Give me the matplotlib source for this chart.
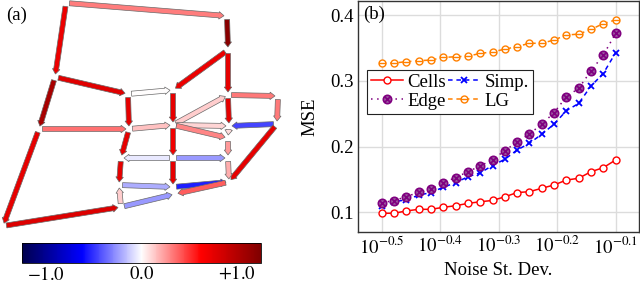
import numpy as np
import matplotlib
matplotlib.use('Agg')
import matplotlib.pyplot as plt
from matplotlib.colors import Normalize
from matplotlib.cm import ScalarMappable
from matplotlib.path import Path

plt.rcParams['font.family'] = ['Liberation Serif', 'DejaVu Serif']
plt.rcParams['mathtext.fontset'] = 'stix'

# ---------------- panel (b) data ----------------
noise_exp = [-0.5, -0.4789, -0.4579, -0.4368, -0.4158, -0.3947, -0.3737, -0.3526,
             -0.3316, -0.3105, -0.2895, -0.2684, -0.2474, -0.2263, -0.2053, -0.1842,
             -0.1632, -0.1421, -0.1211, -0.1]
cells = [0.0985, 0.0985, 0.102, 0.1045, 0.1045, 0.1075, 0.110, 0.1135, 0.116, 0.118,
         0.1235, 0.130, 0.1313, 0.1365, 0.1415, 0.149, 0.1517, 0.1617, 0.1678, 0.1795]
simp = [0.110, 0.116, 0.119, 0.126, 0.130, 0.138, 0.145, 0.154, 0.160, 0.171,
        0.1806, 0.1947, 0.205, 0.2186, 0.234, 0.2545, 0.2655, 0.292, 0.311, 0.3426]
edge = [0.1146, 0.1177, 0.1237, 0.1304, 0.135, 0.145, 0.1526, 0.1617, 0.1704, 0.1800,
        0.1937, 0.207, 0.219, 0.234, 0.2514, 0.2757, 0.2885, 0.315, 0.339, 0.372]
lg = [0.3265, 0.327, 0.329, 0.3305, 0.3315, 0.3355, 0.3365, 0.3375, 0.3415, 0.344,
      0.348, 0.352, 0.357, 0.357, 0.362, 0.3695, 0.371, 0.378, 0.387, 0.3925]
xtick_exp = [-0.5, -0.4, -0.3, -0.2, -0.1]
ytick_vals = [0.1, 0.2, 0.3, 0.4]

# ---------------- panel (a) data ----------------
node_x = [66, 227, 228, 55, 128, 173, 228, 278, 39, 129, 173, 229, 277, 3,
          121, 173, 228, 119, 173, 229, 121, 228, 175]
node_y = [3, 16, 50, 77, 94, 90, 95, 96, 129, 129, 125, 126, 124, 226,
          158, 158, 158, 185, 187, 182, 207, 138, 194]
edge_src = [0, 0, 1, 2, 2, 3, 3, 4, 4, 5, 6, 6, 7, 10, 8, 9, 10, 10, 11, 21,
            12, 12, 9, 10, 15, 15, 16, 14, 15, 17, 18, 19, 20, 20, 13, 8]
edge_dst = [1, 3, 2, 5, 6, 4, 8, 5, 9, 10, 7, 11, 12, 6, 9, 10, 11, 21, 21, 16,
            11, 19, 14, 15, 14, 16, 19, 17, 18, 18, 19, 22, 22, 17, 20, 13]
edge_val = [0.32, 0.72, 1.2, 0.72, 0.75, 0.78, 1.05, 0.0, 0.75, 0.75, 0.33, 0.75,
            0.33, 0.12, 0.35, 0.15, 0.1, 0.3, 0.08, 0.25, -0.45, 0.75, 0.75, 0.7,
            -0.05, -0.25, 0.2, 0.75, 0.75, -0.2, -0.55, 0.4, -0.25, 0.12, 0.8, 0.75]
cbar_ticks = [-1.0, 0.0, 1.0]
cbar_labels = ['$-1.0$', '$0.0$', '$+1.0$']

W, H = 640, 283
fig = plt.figure(figsize=(W / 100, H / 100), dpi=100)


def rect(x0, y0, x1, y1):
    return [x0 / W, 1 - y1 / H, (x1 - x0) / W, (y1 - y0) / H]


FS = 13.5

# ---------------- panel (a) ----------------
axa = fig.add_axes(rect(0, 0, 300, 240))
axa.set_xlim(0, 300)
axa.set_ylim(240, 0)
axa.axis('off')
cmap = plt.get_cmap('seismic')
norm = Normalize(-1.25, 1.25)
for s, d, v in zip(edge_src, edge_dst, edge_val):
    x0, y0 = node_x[s], node_y[s]
    x1, y1 = node_x[d], node_y[d]
    dx, dy = x1 - x0, y1 - y0
    L = np.hypot(dx, dy)
    ux, uy = dx / L, dy / L
    sx, sy = x0 + ux * 3.5, y0 + uy * 3.5
    ex, ey = x1 - ux * 3.0, y1 - uy * 3.0
    axa.arrow(sx, sy, ex - sx, ey - sy, width=5.0, head_width=7.5, head_length=5.0,
              length_includes_head=True, fc=cmap(norm(v)), ec='#6a6a6a', lw=0.5)
fig.text(17 / W, 1 - 15 / H, '(a)', ha='center', va='center', fontsize=FS)

cax = fig.add_axes(rect(22, 243, 261, 263))
cb = fig.colorbar(ScalarMappable(norm=norm, cmap=cmap), cax=cax, orientation='horizontal')
cb.set_ticks(cbar_ticks)
cb.set_ticklabels(cbar_labels)
cax.tick_params(length=0, labelsize=FS, pad=2)
cb.outline.set_linewidth(0.6)

# ---------------- panel (b) ----------------
axb = fig.add_axes(rect(358, 1, 639, 232))
x = 10 ** np.array(noise_exp)

circ = Path.unit_circle()
otimes = Path.make_compound_path(
    circ,
    Path([(-0.7, -0.7), (0.7, 0.7)], [Path.MOVETO, Path.LINETO]),
    Path([(-0.7, 0.7), (0.7, -0.7)], [Path.MOVETO, Path.LINETO]))
ominus = Path.make_compound_path(
    circ, Path([(-1, 0), (1, 0)], [Path.MOVETO, Path.LINETO]))

l1, = axb.plot(x, cells, color='#ff0000', lw=1.1, marker='o', ms=5, mfc='white',
               mec='#ff0000', mew=1.0, label='Cells')
l2, = axb.plot(x, simp, color='#0000ff', lw=1.1, ls=(0, (3, 2.5)), marker='x', ms=4,
               mew=1.3, label='Simp.')
l3, = axb.plot(x, edge, color='#800080', lw=1.1, ls=(0, (1, 3)), marker=otimes, ms=6,
               mfc='#9a5aa0', mec='#800080', mew=1.2, label='Edge')
l4, = axb.plot(x, lg, color='#ff8000', lw=1.1, ls=(0, (3, 2.5)), marker=ominus, ms=5,
               mfc='white', mec='#ff8000', mew=1.0, label='LG')

axb.set_xscale('log')
axb.set_xlim(10 ** -0.5405, 10 ** -0.06)
axb.set_ylim(0.070, 0.4213)
axb.set_xticks(10 ** np.array(xtick_exp))
axb.set_xticklabels([r'$10^{%.1f}$' % e for e in xtick_exp])
axb.xaxis.set_minor_locator(matplotlib.ticker.NullLocator())
axb.set_yticks(ytick_vals)
axb.set_yticklabels(['%.1f' % v for v in ytick_vals])
axb.tick_params(labelsize=FS, length=0, pad=3)
axb.grid(True, color='#dcdcdc', lw=1.0)
axb.set_axisbelow(True)
for sp in axb.spines.values():
    sp.set_linewidth(1.0)
    sp.set_color('#333333')
axb.set_xlabel('Noise St. Dev.', fontsize=FS)
axb.xaxis.set_label_coords(0.5, -0.13)
axb.set_ylabel('MSE', fontsize=FS)
axb.yaxis.set_label_coords(-0.14, 0.5)
axb.text(0.018, 0.944, '(b)', transform=axb.transAxes, ha='left', va='center', fontsize=FS)

leg = axb.legend(handles=[l1, l3, l2, l4], ncol=2, loc='upper left',
                 bbox_to_anchor=((367 - 358) / 281, 1 - (70 - 1) / 231),
                 borderaxespad=0, fontsize=FS, frameon=True, fancybox=False,
                 edgecolor='#222222', framealpha=1, borderpad=0.2, labelspacing=0.1,
                 handlelength=1.7, handletextpad=0.25, columnspacing=0.1)
leg.get_frame().set_linewidth(0.8)

fig.savefig('out.png', dpi=100)
